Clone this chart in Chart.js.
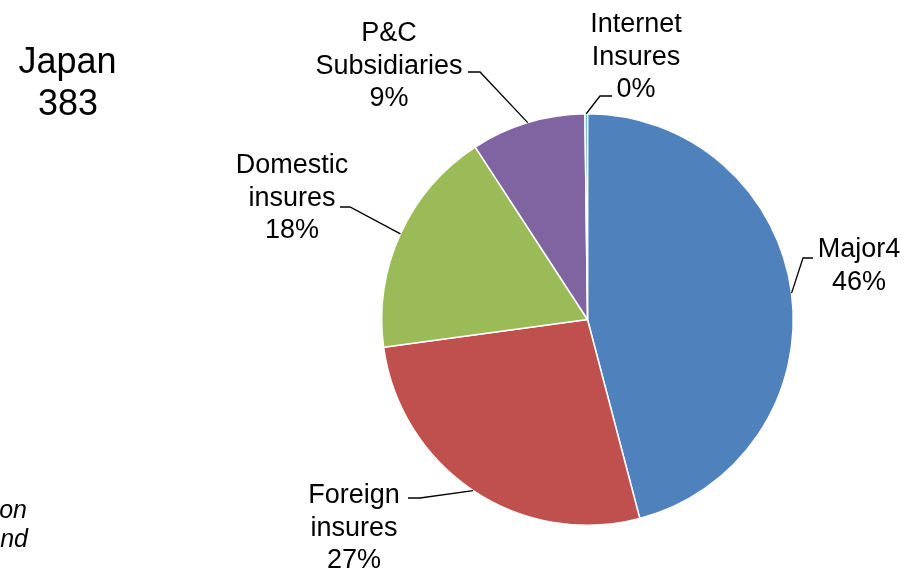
<!DOCTYPE html>
<html>
<head>
<meta charset="utf-8">
<title>Japan 383</title>
<script src="https://cdn.jsdelivr.net/npm/chart.js@4/dist/chart.umd.min.js"></script>
<style>
  html, body { margin: 0; padding: 0; background: #fff; }
  #wrap { position: relative; width: 909px; height: 572px; }
</style>
</head>
<body>
<div id="wrap"><canvas id="myChart"></canvas></div>
<script>
// market share by insurer type
const categories = [
  ['Major4'],
  ['Foreign', 'insures'],
  ['Domestic', 'insures'],
  ['P&C', 'Subsidiaries'],
  ['Internet', 'Insures']
];
const shares = [46, 27, 18, 9, 0.2];
const sliceColors = ['#4f81bd', '#c0504d', '#9bbb59', '#8064a2', '#4bacc6'];
const regionName = 'Japan';
const regionTotal = '383';
const noteLines = ['on', 'nd'];

// where each callout sits, relative to the pie centre:
// text block centre, and the end of the leader line next to the text
const callouts = [
  { tx: 271.5, ty: -55.5, ex: 225.5, ey: -61.5, elbow: -10 },
  { tx: -233.5, ty: 206.5, ex: -179.5, ey: 178.5, elbow: 12 },
  { tx: -295.5, ty: -123.5, ex: -247.5, ey: -112.5, elbow: 10 },
  { tx: -198.5, ty: -255.5, ex: -119.5, ey: -247.5, elbow: 12 },
  { tx: 48.5, ty: -264.5, ex: 24.5, ey: -223.5, elbow: -12 }
];

const FONT = '"Liberation Sans", Arial, sans-serif';

const calloutPlugin = {
  id: 'callouts',
  afterDraw(chart) {
    const ctx = chart.ctx;
    const arcs = chart.getDatasetMeta(0).data;
    const values = chart.data.datasets[0].data;
    const total = values.reduce((a, b) => a + b, 0);

    ctx.save();
    ctx.fillStyle = '#000';
    ctx.strokeStyle = '#000';
    ctx.lineWidth = 1.3;
    ctx.textAlign = 'center';
    ctx.textBaseline = 'alphabetic';

    arcs.forEach((arc, i) => {
      const c = callouts[i];
      const mid = (arc.startAngle + arc.endAngle) / 2;
      const px = arc.x + Math.cos(mid) * arc.outerRadius;
      const py = arc.y + Math.sin(mid) * arc.outerRadius;
      const ex = arc.x + c.ex;
      const ey = arc.y + c.ey;

      ctx.beginPath();
      ctx.moveTo(px, py);
      ctx.lineTo(ex + c.elbow, ey);
      ctx.lineTo(ex, ey);
      ctx.stroke();

      const pct = Math.round(values[i] / total * 100) + '%';
      const lines = chart.data.labels[i].concat([pct]);
      const size = 27;
      const lh = 32.5;
      ctx.font = size + 'px ' + FONT;
      lines.forEach((t, k) => {
        const y = arc.y + c.ty + (k - (lines.length - 1) / 2) * lh + 0.358 * size;
        ctx.fillText(t, arc.x + c.tx, y);
      });
    });

    // region heading
    ctx.font = '36px ' + FONT;
    ctx.fillText(regionName, 67.5, 73);
    ctx.fillText(regionTotal, 68, 115);

    // note text at the left edge
    ctx.font = 'italic 25px ' + FONT;
    ctx.textAlign = 'right';
    ctx.fillText(noteLines[0], 27, 518);
    ctx.fillText(noteLines[1], 28, 547);
    ctx.restore();
  }
};

const ctx = document.getElementById('myChart').getContext('2d');
const chart = new Chart(ctx, {
  type: 'pie',
  data: {
    labels: categories,
    datasets: [{
      data: shares,
      backgroundColor: sliceColors,
      borderColor: '#ffffff',
      borderWidth: 1.5,
      hoverOffset: 0
    }]
  },
  options: {
    responsive: true,
    maintainAspectRatio: false,
    animation: false,
    layout: {
      padding: { left: 381, right: 115, top: 113, bottom: 46 }
    },
    plugins: {
      legend: { display: false },
      tooltip: { enabled: false }
    }
  },
  plugins: [calloutPlugin]
});
</script>
</body>
</html>
